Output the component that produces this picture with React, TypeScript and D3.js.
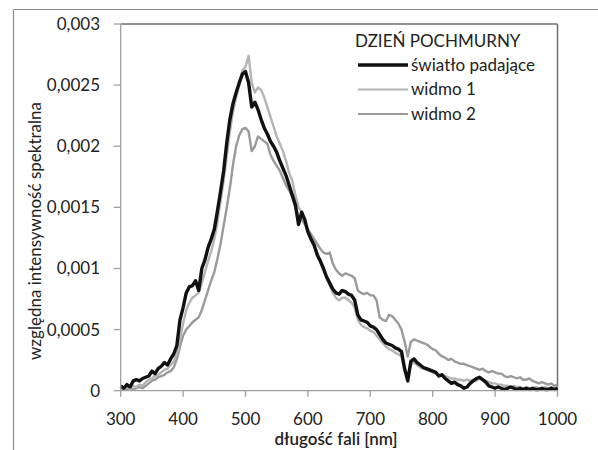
import React from "react";
import * as d3 from "d3";

const wavelengths: number[] = d3.range(300, 1001, 5);

const incident: number[] = [
  0.00004, 0.00002, 0.00005, 0.00003, 0.00008, 0.00009, 0.00008, 0.0001, 0.00011, 0.00012,
  0.00016, 0.00014, 0.00018, 0.0002, 0.00023, 0.00021, 0.00026, 0.0003, 0.00037, 0.00058,
  0.00068, 0.0008, 0.00085, 0.00086, 0.0009, 0.00082, 0.001, 0.00107, 0.00117, 0.00124,
  0.00132, 0.00147, 0.00163, 0.0018, 0.00203, 0.00222, 0.00235, 0.00244, 0.00252, 0.00259,
  0.00261, 0.00252, 0.00232, 0.00236, 0.0023, 0.00222, 0.00215, 0.0021, 0.00204, 0.002,
  0.00195, 0.00188, 0.00182, 0.00176, 0.00168, 0.0016, 0.00152, 0.00136, 0.00146, 0.0014,
  0.0013, 0.00124, 0.00119, 0.00111, 0.00106, 0.001, 0.00093, 0.00088, 0.00083, 0.0008,
  0.00079, 0.00082, 0.00081, 0.00079, 0.00078, 0.00074, 0.00062, 0.00058, 0.00057, 0.00056,
  0.00053, 0.00052, 0.0005, 0.00046, 0.00042, 0.00039, 0.00038, 0.00037, 0.00035, 0.00034,
  0.00032, 0.00018, 0.00008, 0.00024, 0.00026, 0.00023, 0.00021, 0.00019, 0.00018, 0.00017,
  0.00016, 0.00015, 0.00012, 0.00013, 0.0001, 0.00008, 0.00006, 0.00007, 0.00005, 0.00004,
  0.00002, 0.00003, 0.00006, 0.00008, 0.0001, 0.00011, 0.00009, 0.00007, 0.00004, 0.00003,
  0.00002, 0.00003, 0.00002, 0.00001, 0.00002, 0.00003, 0.00002, 0.00001, 0.00002, 0.00001,
  0.00002, 0.00001, 0.00002, 0.00001, 0.00001, 0.00002, 0.00001, 0.00001, 0.00002, 0.00001,
  0.00002,
];

const spectrum1: number[] = [
  0.00002, 0.00001, 0.00003, 0.00002, 0.00004, 0.00003, 0.00005, 0.00004, 0.00007, 0.00009,
  0.0001, 0.00012, 0.00013, 0.00015, 0.00017, 0.00018, 0.00021, 0.00024, 0.0003, 0.00042,
  0.00055, 0.00066, 0.00072, 0.00076, 0.00078, 0.0008, 0.00088, 0.00097, 0.00106, 0.00114,
  0.00124, 0.00138, 0.00155, 0.00172, 0.00192, 0.00212, 0.00228, 0.0024, 0.0025, 0.00262,
  0.00265, 0.00274, 0.00252, 0.00244, 0.00248, 0.00246, 0.0024, 0.00232, 0.00224, 0.00216,
  0.00208, 0.00202, 0.00196, 0.00188, 0.00178, 0.00172, 0.0016, 0.0015, 0.00146, 0.00138,
  0.0013, 0.00124, 0.0012, 0.00113, 0.00105, 0.00098, 0.00092, 0.00086, 0.0008, 0.00076,
  0.00074, 0.00076, 0.00076, 0.00074, 0.00072, 0.00068, 0.00058, 0.00054, 0.00052, 0.00051,
  0.00049, 0.00048, 0.00045, 0.00042, 0.00039, 0.00036, 0.00034, 0.00033, 0.00031, 0.0003,
  0.00028, 0.00016, 0.00012, 0.00022, 0.00023, 0.00021, 0.00019, 0.00018, 0.00017, 0.00016,
  0.00015, 0.00014, 0.00013, 0.00013, 0.00012, 0.00011, 0.0001, 0.0001, 0.00009, 0.00009,
  0.00008, 0.00009, 0.00008, 0.00009, 0.00008, 0.0001, 0.00009, 0.00008, 0.00007, 0.00006,
  0.00006, 0.00005, 0.00005, 0.00004, 0.00004, 0.00003, 0.00004, 0.00003, 0.00003, 0.00002,
  0.00003, 0.00002, 0.00002, 0.00003, 0.00002, 0.00002, 0.00003, 0.00002, 0.00003, 0.00002,
  0.00003,
];

const spectrum2: number[] = [
  0.00001, 0.00002, 0.00001, 0.00002, 0.00001, 0.00002, 0.00003, 0.00002, 0.00004, 0.00006,
  0.00008, 0.00009, 0.00011, 0.00012, 0.00013, 0.00015, 0.00016, 0.00019, 0.00026, 0.00036,
  0.00045, 0.0005, 0.00053, 0.00056, 0.00058, 0.0006, 0.00066, 0.00074, 0.00082, 0.0009,
  0.00097, 0.00108, 0.0012, 0.00135, 0.0015, 0.00166, 0.00185, 0.002, 0.00209, 0.00214,
  0.00215, 0.00212, 0.00196, 0.002, 0.00208, 0.00206, 0.00204, 0.00202, 0.00193, 0.00188,
  0.00184, 0.0018, 0.00174, 0.00168, 0.00164, 0.00158, 0.0015, 0.00142, 0.0014, 0.00136,
  0.00132, 0.00128, 0.00124, 0.0012, 0.00116, 0.00113, 0.00112, 0.00113, 0.00104, 0.00099,
  0.00096, 0.00094, 0.00096, 0.00095, 0.00094, 0.00092, 0.00082, 0.0008, 0.00079, 0.0008,
  0.00078, 0.00078, 0.00074, 0.0006, 0.00058, 0.00057, 0.00062, 0.00061, 0.00058, 0.00055,
  0.0005, 0.0004, 0.00028, 0.0004, 0.00042, 0.00041, 0.0004, 0.00039, 0.00038, 0.00036,
  0.00034, 0.00033, 0.0003, 0.00028, 0.00027, 0.00025, 0.00026, 0.00024, 0.00023, 0.00022,
  0.00022, 0.00021, 0.0002, 0.00019, 0.00018, 0.00017, 0.00018, 0.00016, 0.00015, 0.00016,
  0.00015, 0.00014, 0.00014, 0.00012, 0.00011, 0.00012, 0.00011, 0.0001, 0.00011, 0.00009,
  0.00009, 0.0001, 0.00008, 0.00007, 0.00006, 0.00007, 0.00006, 0.00005, 0.00006, 0.00004,
  0.00005,
];

const xTicks: number[] = [300, 400, 500, 600, 700, 800, 900, 1000];
const yTicks: number[] = [0, 0.0005, 0.001, 0.0015, 0.002, 0.0025, 0.003];
const yTickLabels: string[] = ["0", "0,0005", "0,001", "0,0015", "0,002", "0,0025", "0,003"];
const legendTitle = "DZIEŃ POCHMURNY";
const seriesNames: string[] = ["światło padające", "widmo 1", "widmo 2"];
const xTitle = "długość fali [nm]";
const yTitle = "względna intensywność spektralna";

const FONT = "Lato, 'Open Sans', sans-serif";

export default function App() {
  const W = 598;
  const H = 450;
  const left = 120.7;
  const right = 557.5;
  const top = 24;
  const bottom = 390.7;
  const x = d3.scaleLinear().domain([300, 1000]).range([left, right]);
  const y = d3.scaleLinear().domain([0, 0.003]).range([bottom, top]);

  const line = d3
    .line<number>()
    .x((_, i) => x(wavelengths[i]))
    .y((d) => y(d));

  const series = [
    { name: seriesNames[2], data: spectrum2, color: "#9a9a9a", width: 2.4 },
    { name: seriesNames[1], data: spectrum1, color: "#b4b4b4", width: 2.4 },
    { name: seriesNames[0], data: incident, color: "#111111", width: 3.4 },
  ];

  const legendItems = [
    { name: seriesNames[0], color: "#111111", width: 3.4 },
    { name: seriesNames[1], color: "#b4b4b4", width: 2.2 },
    { name: seriesNames[2], color: "#9a9a9a", width: 2.2 },
  ];

  return (
    <svg
      width={W}
      height={H}
      style={{ position: "absolute", left: 0, top: 0, background: "#fff" }}
      fontFamily={FONT}
    >
      <rect x={0} y={0} width={W} height={H} fill="#fff" />
      {/* outer frame */}
      <line x1={13.5} y1={9.5} x2={W} y2={9.5} stroke="#8a8a8a" strokeWidth={1.2} />
      <line x1={13.5} y1={9.5} x2={13.5} y2={H} stroke="#8a8a8a" strokeWidth={1.2} />

      {/* plot border (top/right) */}
      <line x1={left} y1={top} x2={right} y2={top} stroke="#6e6e6e" strokeWidth={1.5} />
      <line x1={right} y1={top} x2={right} y2={bottom} stroke="#6e6e6e" strokeWidth={1.5} />

      {/* series */}
      {series.map((s) => (
        <path
          key={s.name}
          d={line(s.data) || ""}
          fill="none"
          stroke={s.color}
          strokeWidth={s.width}
          strokeLinejoin="round"
        />
      ))}

      {/* axes */}
      <line x1={left} y1={top} x2={left} y2={bottom} stroke="#a0a0a0" strokeWidth={1.3} />
      <line x1={left} y1={bottom} x2={right} y2={bottom} stroke="#a0a0a0" strokeWidth={1.3} />
      {yTicks.map((t, i) => (
        <g key={"y" + t}>
          <line x1={left - 7} x2={left} y1={y(t)} y2={y(t)} stroke="#a0a0a0" strokeWidth={1.3} />
          <text
            x={100}
            y={y(t)}
            dy="0.35em"
            textAnchor="end"
            fontSize={17}
            fill="#222"
          >
            {yTickLabels[i]}
          </text>
        </g>
      ))}
      {xTicks.map((t) => (
        <g key={"x" + t}>
          <line x1={x(t)} x2={x(t)} y1={bottom} y2={bottom + 6} stroke="#a0a0a0" strokeWidth={1.3} />
          <text x={x(t)} y={425} textAnchor="middle" fontSize={17} fill="#222">
            {t}
          </text>
        </g>
      ))}

      {/* axis titles */}
      <text x={336} y={445} textAnchor="middle" fontSize={17} fontWeight={600} fill="#222">
        {xTitle}
      </text>
      <text
        transform={`translate(41, 231) rotate(-90)`}
        textAnchor="middle"
        fontSize={17}
        fill="#222"
      >
        {yTitle}
      </text>

      {/* legend */}
      <text x={355} y={47} fontSize={17} fill="#222">
        {legendTitle}
      </text>
      {legendItems.map((it, i) => {
        const ly = 65 + i * 24.5;
        return (
          <g key={"lg" + it.name}>
            <line x1={358} x2={408} y1={ly} y2={ly} stroke={it.color} strokeWidth={it.width} />
            <text x={411} y={ly} dy="0.33em" fontSize={17} fill="#222">
              {it.name}
            </text>
          </g>
        );
      })}
    </svg>
  );
}
